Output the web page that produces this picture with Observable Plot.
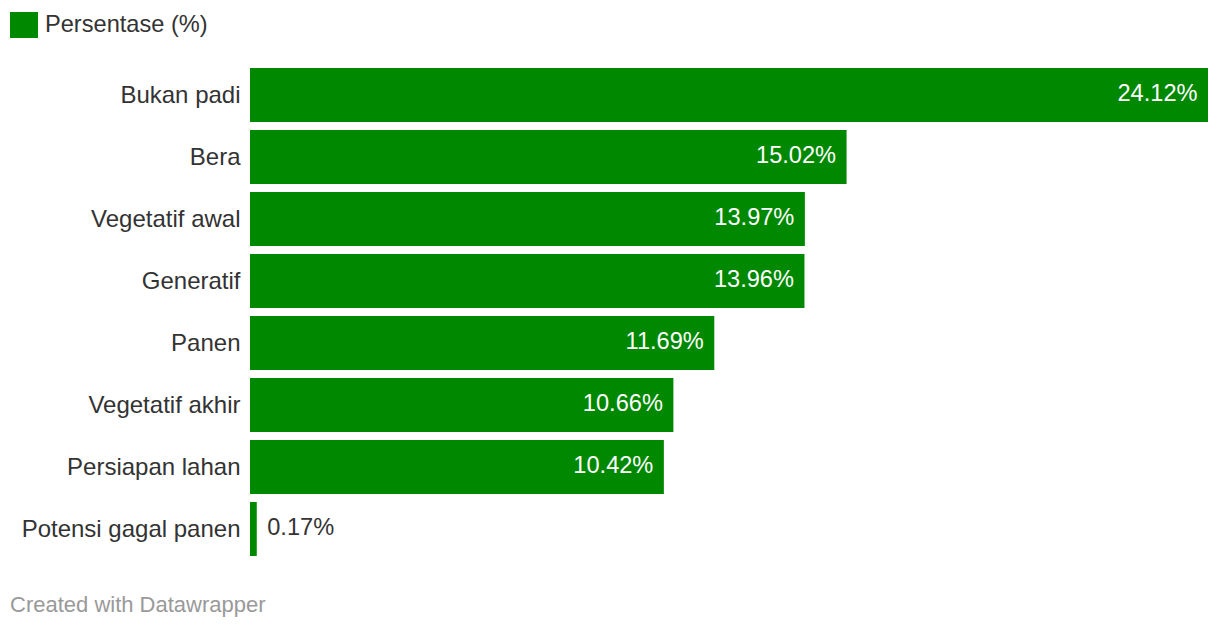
<!DOCTYPE html>
<html>
<head>
<meta charset="utf-8">
<script src="https://cdn.jsdelivr.net/npm/d3@7"></script>
<script src="https://cdn.jsdelivr.net/npm/@observablehq/plot@0.6"></script>
<style>
  body { margin: 0; background: #fff; font-family: "Liberation Sans", Arial, Helvetica, sans-serif; }
  #legend { height: 60px; position: relative; }
  #legend .sw { position: absolute; left: 10px; top: 12px; width: 28px; height: 26px; background: #008800; }
  #legend .lb { position: absolute; left: 45px; top: 11px; font-size: 23.6px; line-height: 26px; color: #333; }
  #footer { position: absolute; left: 10px; top: 592px; font-size: 22px; line-height: 26px; color: #999; }
</style>
</head>
<body>
<div id="legend"><div class="sw"></div><div class="lb">Persentase (%)</div></div>
<div id="chart"></div>
<div id="footer">Created with Datawrapper</div>
<script>
const categories = ["Bukan padi", "Bera", "Vegetatif awal", "Generatif", "Panen", "Vegetatif akhir", "Persiapan lahan", "Potensi gagal panen"];
const values = [24.12, 15.02, 13.97, 13.96, 11.69, 10.66, 10.42, 0.17];
const seriesName = "Persentase (%)";

const data = categories.map((c, i) => ({category: c, value: values[i]}));
const fmt = d => d.value.toFixed(2) + "%";
const fs = 23.6;

const plot = Plot.plot({
  width: 1220,
  height: 504,
  marginTop: 0,
  marginBottom: 0,
  marginLeft: 250,
  marginRight: 12,
  style: {fontFamily: '"Liberation Sans", Arial, Helvetica, sans-serif', fontSize: fs + "px", color: "#333", background: "#fff"},
  x: {domain: [0, 24.12], axis: null},
  y: {domain: categories, padding: 0.129, axis: null},
  marks: [
    Plot.barX(data, {x: "value", y: "category", fill: "#008800"}),
    Plot.text(data, {x: 0, y: "category", text: "category", textAnchor: "end", dx: -10, fill: "#333", fontSize: 24}),
    Plot.text(data.filter(d => d.value >= 2), {x: "value", y: "category", text: fmt, textAnchor: "end", dx: -11, dy: -2, fill: "#fff", fontSize: fs}),
    Plot.text(data.filter(d => d.value < 2), {x: "value", y: "category", text: fmt, textAnchor: "start", dx: 10, dy: -2, fill: "#333", fontSize: fs})
  ]
});
document.getElementById("chart").appendChild(plot);
</script>
</body>
</html>
